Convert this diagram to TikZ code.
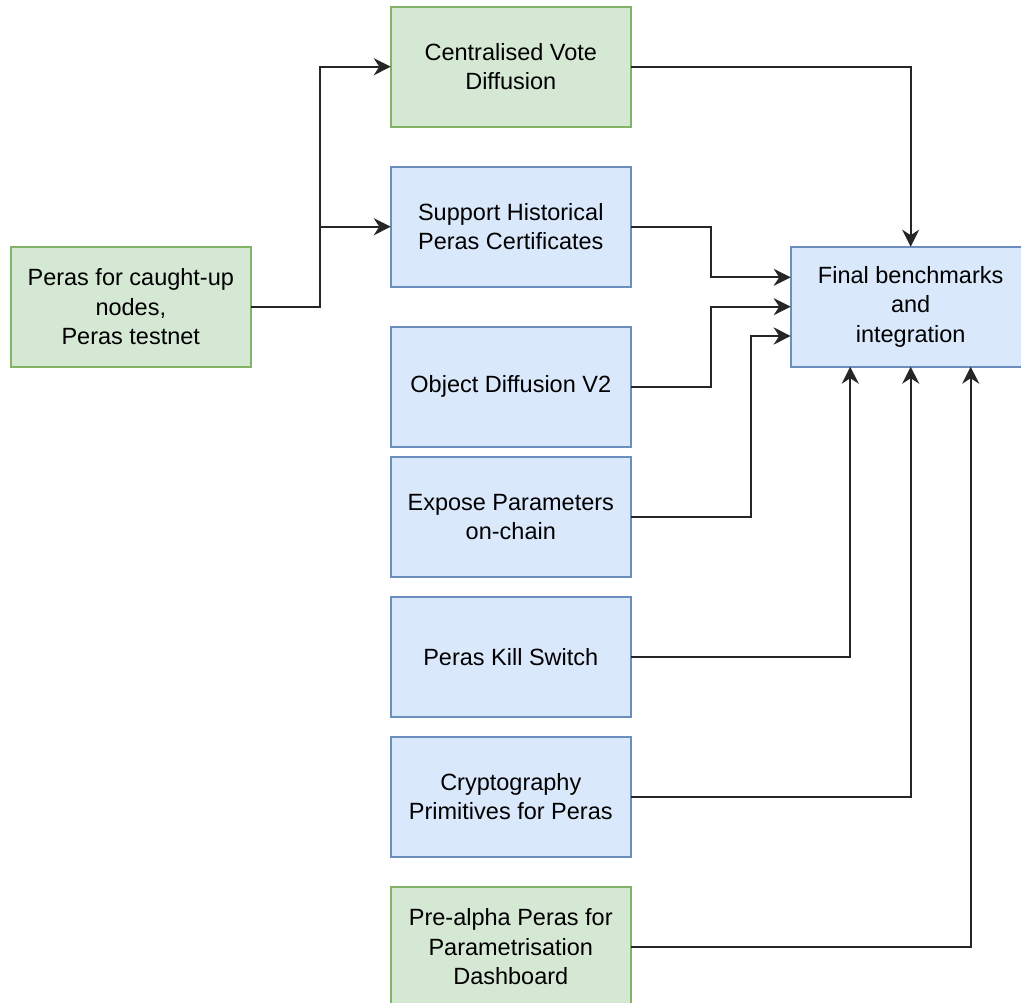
\documentclass[tikz,border=0pt]{standalone}
\usepackage{fontspec}
\setmainfont{Liberation Sans}
\usetikzlibrary{arrows.meta,calc}
\definecolor{gfill}{HTML}{D5E8D4}
\definecolor{gline}{HTML}{82B366}
\definecolor{bfill}{HTML}{DAE8FC}
\definecolor{bline}{HTML}{6C8EBF}
\tikzset{
  box/.style={rectangle, minimum width=240pt, minimum height=120pt, inner sep=0pt, outer sep=0pt,
    line width=2pt, align=center, font=\fontsize{23.5}{29.3}\selectfont},
  gbox/.style={box, fill=gfill, draw=gline},
  bbox/.style={box, fill=bfill, draw=bline},
  conn/.style={line width=2pt, draw=black!85, -{Stealth[length=17pt,width=17pt,inset=5.5pt]}},
}
\begin{document}
\begin{tikzpicture}[x=1pt,y=-1pt]
\useasboundingbox (0,0) rectangle (1021,1003);
\clip (0,0) rectangle (1021,1003);
\fill[white] (0,0) rectangle (1021,1003);
\node[gbox] (L) at (130.8,306.7) {Peras for caught-up\\nodes,\\Peras testnet};
\node[gbox] (C) at (510.8,66.7) {Centralised Vote\\Diffusion};
\node[bbox] (S) at (510.8,226.7) {Support Historical\\Peras Certificates};
\node[bbox] (O) at (510.8,386.7) {Object Diffusion V2};
\node[bbox] (E) at (510.8,516.7) {Expose Parameters\\on-chain};
\node[bbox] (K) at (510.8,656.7) {Peras Kill Switch};
\node[bbox] (Cr) at (510.8,796.7) {Cryptography\\Primitives for Peras};
\node[gbox] (P) at (510.8,946.7) {Pre-alpha Peras for\\Parametrisation\\Dashboard};
\node[bbox] (F) at (910.7,306.7) {Final benchmarks\\and\\integration};
\coordinate (j1) at (320,306.7);
\coordinate (j2) at (320,226.7);
\coordinate (f1) at ($(F.west)+(0,-29.4)$);
\coordinate (f3) at ($(F.west)+(0,29.3)$);
\coordinate (s1) at ($(F.south)+(-60.5,0)$);
\coordinate (s3) at ($(F.south)+(60,0)$);
\draw[conn] (L.east) -- (j1) |- (C.west);
\draw[conn] (j2) -- (S.west);
\draw[conn] (C.east) -| (F.north);
\draw[conn] (S.east) -- (711,226.7) |- (f1);
\draw[conn] (O.east) -- (711,386.7) |- (F.west);
\draw[conn] (E.east) -- (750.7,516.7) |- (f3);
\draw[conn] (K.east) -| (s1);
\draw[conn] (Cr.east) -| (F.south);
\draw[conn] (P.east) -| (s3);
\end{tikzpicture}
\end{document}
